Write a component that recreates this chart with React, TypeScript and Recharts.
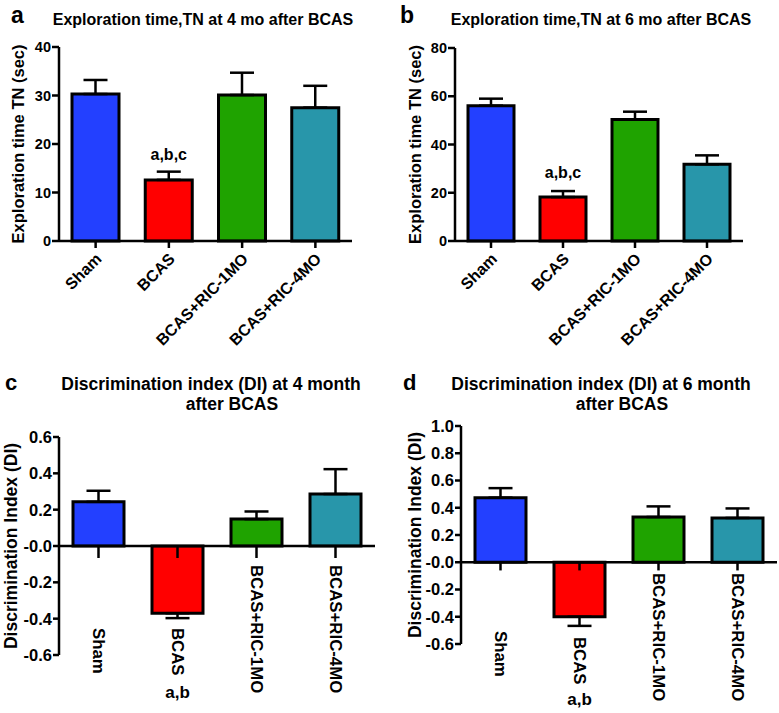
import React from "react";
import { BarChart, Bar, XAxis, YAxis, ErrorBar, Cell, LabelList, ReferenceLine } from "recharts";

const groups = ["Sham", "BCAS", "BCAS+RIC-1MO", "BCAS+RIC-4MO"];
const barColors = ["#2340ff", "#ff0000", "#1fa300", "#2896aa"];

// exploration time TN (sec), mean and SEM
const tn4Mean = [30.3, 12.6, 30.1, 27.5];
const tn4Sem = [2.9, 1.7, 4.6, 4.5];
const tn6Mean = [56.1, 18.2, 50.4, 31.8];
const tn6Sem = [2.9, 2.5, 3.2, 3.7];

// discrimination index
const di4Mean = [0.243, -0.37, 0.148, 0.286];
const di4Sem = [0.061, 0.027, 0.042, 0.137];
const di6Mean = [0.474, -0.4, 0.332, 0.325];
const di6Sem = [0.07, 0.067, 0.078, 0.07];

const tnNotes = ["", "a,b,c", "", ""];
const diNotes = ["", "a,b", "", ""];

const tn4Ticks = [0, 10, 20, 30, 40];
const tn6Ticks = [0, 20, 40, 60, 80];
const di4Ticks = [-0.6, -0.4, -0.2, 0, 0.2, 0.4, 0.6];
const di6Ticks = [-0.6, -0.4, -0.2, 0, 0.2, 0.4, 0.6, 0.8, 1.0];

const FONT = "Arial, 'Liberation Sans', Helvetica, sans-serif";
const AXIS = { stroke: "#000", strokeWidth: 2.5 };

const makeRows = (mean: number[], sem: number[], notes: string[]) =>
  groups.map((name, i) => ({
    name,
    value: mean[i],
    err: mean[i] < 0 ? [sem[i], 0] : [0, sem[i]],
    note: notes[i],
  }));

const diFmt = (v: number) => (Math.abs(v) < 1e-9 ? "-0.0" : v.toFixed(1));

function DiagTick(props: any) {
  const { x, y, payload } = props;
  const ax = x + 7;
  const ay = y + 10;
  return (
    <text
      x={ax}
      y={ay}
      transform={`rotate(-45, ${ax}, ${ay})`}
      textAnchor="end"
      fontSize={16}
      fontWeight="bold"
      fontFamily={FONT}
      fill="#000"
    >
      {payload.value}
    </text>
  );
}

const makeVertTick = (starts: number[], noteY: number, notes: string[]) =>
  function VertTick(props: any) {
    const { x, y, payload, index } = props;
    const tx = x - 6;
    const ty = y + starts[index];
    return (
      <g>
        <text
          x={tx}
          y={ty}
          transform={`rotate(90, ${tx}, ${ty})`}
          textAnchor="start"
          fontSize={16.8}
          fontWeight="bold"
          fontFamily={FONT}
          fill="#000"
        >
          {payload.value}
        </text>
        {notes[index] ? (
          <text
            x={x}
            y={y + noteY}
            textAnchor="middle"
            fontSize={17}
            fontWeight="bold"
            fontFamily={FONT}
            fill="#000"
          >
            {notes[index]}
          </text>
        ) : null}
      </g>
    );
  };

const yLabel = (text: string, size: number, dx: number) => ({
  content: (p: any) => {
    const vb = p.viewBox;
    const cx = vb.x + dx;
    const cy = vb.y + vb.height / 2;
    return (
      <text
        x={cx}
        y={cy}
        transform={`rotate(-90, ${cx}, ${cy})`}
        textAnchor="middle"
        fontSize={size}
        fontWeight="bold"
        fontFamily={FONT}
        fill="#000"
      >
        {text}
      </text>
    );
  },
});

function TnPanel(props: any) {
  const { left, top, width, rows, ticks, max, yAxisWidth, right, plotTop, barSize, labelOffset, labelDx } = props;
  return (
    <div style={{ position: "absolute", left, top }}>
      <BarChart
        width={width}
        height={352}
        data={rows}
        margin={{ top: plotTop, right, bottom: 0, left: 0 }}
      >
        <XAxis
          dataKey="name"
          interval={0}
          axisLine={AXIS}
          tickLine={AXIS}
          tickSize={7}
          tickMargin={2}
          height={111}
          tick={<DiagTick />}
        />
        <YAxis
          domain={[0, max]}
          ticks={ticks}
          width={yAxisWidth}
          axisLine={AXIS}
          tickLine={AXIS}
          tickSize={7}
          tickMargin={1}
          tick={{ fill: "#000", fontSize: 14.5, fontWeight: "bold", fontFamily: FONT }}
          label={yLabel("Exploration time TN (sec)", 16.5, labelDx)}
        />
        <Bar dataKey="value" barSize={barSize} stroke="#000" strokeWidth={3} isAnimationActive={false}>
          {rows.map((_: any, i: number) => (
            <Cell key={i} fill={barColors[i]} />
          ))}
          <ErrorBar dataKey="err" width={12} stroke="#000" strokeWidth={2.5} isAnimationActive={false} />
          <LabelList
            dataKey="note"
            position="top"
            offset={labelOffset}
            style={{ fill: "#000", fontSize: 16, fontWeight: "bold", fontFamily: FONT }}
          />
        </Bar>
      </BarChart>
    </div>
  );
}

function DiPanel(props: any) {
  const { left, top, width, rows, ticks, min, max, yAxisWidth, right, plotTop, xAxisHeight, tickLen, starts, noteY, labelDx } = props;
  const Tick = makeVertTick(starts, noteY, diNotes);
  return (
    <div style={{ position: "absolute", left, top }}>
      <BarChart
        width={width}
        height={373}
        data={rows}
        margin={{ top: plotTop, right, bottom: 0, left: 0 }}
      >
        <XAxis
          dataKey="name"
          interval={0}
          axisLine={false}
          tickLine={false}
          tickSize={0}
          tickMargin={0}
          height={xAxisHeight}
          tick={<Tick />}
        />
        <YAxis
          domain={[min, max]}
          ticks={ticks}
          width={yAxisWidth}
          axisLine={AXIS}
          tickLine={AXIS}
          tickSize={6}
          tickMargin={1}
          tickFormatter={diFmt}
          tick={{ fill: "#000", fontSize: 16.5, fontWeight: "bold", fontFamily: FONT }}
          label={yLabel("Discrimination Index (DI)", 17.5, labelDx)}
        />
        <Bar dataKey="value" barSize={51} stroke="#000" strokeWidth={3} isAnimationActive={false}>
          {rows.map((_: any, i: number) => (
            <Cell key={i} fill={barColors[i]} />
          ))}
          <ErrorBar dataKey="err" width={12} stroke="#000" strokeWidth={2.5} isAnimationActive={false} />
        </Bar>
        <ReferenceLine y={0} stroke="#000" strokeWidth={2.5} />
        {groups.map((g) => (
          <ReferenceLine
            key={g}
            segment={[
              { x: g, y: 0 },
              { x: g, y: -tickLen },
            ]}
            stroke="#000"
            strokeWidth={2.5}
          />
        ))}
      </BarChart>
    </div>
  );
}

const titleStyle = { fontFamily: FONT, fontWeight: "bold", fill: "#000" } as const;

export default function App() {
  return (
    <div style={{ position: "absolute", left: 0, top: 0, width: 779, height: 713, background: "#fff" }}>
      <TnPanel
        left={0}
        top={0}
        width={390}
        rows={makeRows(tn4Mean, tn4Sem, tnNotes)}
        ticks={tn4Ticks}
        max={40}
        yAxisWidth={59}
        right={38}
        plotTop={47}
        barSize={47}
        labelOffset={20}
        labelDx={24}
      />
      <TnPanel
        left={390}
        top={0}
        width={389}
        rows={makeRows(tn6Mean, tn6Sem, tnNotes)}
        ticks={tn6Ticks}
        max={80}
        yAxisWidth={65}
        right={36}
        plotTop={48}
        barSize={46}
        labelOffset={19}
        labelDx={31}
      />
      <DiPanel
        left={0}
        top={340}
        width={390}
        rows={makeRows(di4Mean, di4Sem, diNotes)}
        ticks={di4Ticks}
        min={-0.6}
        max={0.6}
        yAxisWidth={59}
        right={15}
        plotTop={97}
        xAxisHeight={58}
        tickLen={0.066}
        starts={[-27, -27, -90, -90]}
        noteY={43}
        labelDx={16.5}
      />
      <DiPanel
        left={390}
        top={340}
        width={389}
        rows={makeRows(di6Mean, di6Sem, diNotes)}
        ticks={di6Ticks}
        min={-0.6}
        max={1.0}
        yAxisWidth={71}
        right={2}
        plotTop={86}
        xAxisHeight={69}
        tickLen={0.06}
        starts={[-13, -7, -71, -71]}
        noteY={61}
        labelDx={30.5}
      />
      <svg width={779} height={713} style={{ position: "absolute", left: 0, top: 0, pointerEvents: "none" }}>
        <text x={11} y={23} fontSize={23} {...titleStyle}>a</text>
        <text x={203} y={25} fontSize={16} textAnchor="middle" {...titleStyle}>
          Exploration time,TN at 4 mo after BCAS
        </text>
        <text x={400} y={23} fontSize={23} {...titleStyle}>b</text>
        <text x={601} y={25} fontSize={16} textAnchor="middle" {...titleStyle}>
          Exploration time,TN at 6 mo after BCAS
        </text>
        <text x={5} y={390} fontSize={22} {...titleStyle}>c</text>
        <text x={211} y={390} fontSize={17.5} textAnchor="middle" {...titleStyle}>
          Discrimination index (DI) at 4 month
        </text>
        <text x={232} y={410} fontSize={17.5} textAnchor="middle" {...titleStyle}>
          after BCAS
        </text>
        <text x={403} y={390} fontSize={22} {...titleStyle}>d</text>
        <text x={601} y={390} fontSize={17.5} textAnchor="middle" {...titleStyle}>
          Discrimination index (DI) at 6 month
        </text>
        <text x={622} y={410} fontSize={17.5} textAnchor="middle" {...titleStyle}>
          after BCAS
        </text>
      </svg>
    </div>
  );
}
